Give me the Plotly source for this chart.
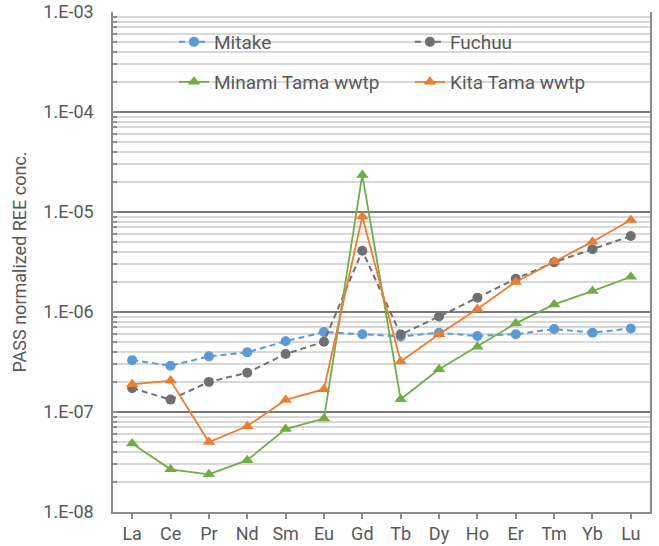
import plotly.graph_objects as go

elements = ["La", "Ce", "Pr", "Nd", "Sm", "Eu", "Gd", "Tb", "Dy", "Ho", "Er", "Tm", "Yb", "Lu"]

mitake = [3.3e-7, 2.9e-7, 3.6e-7, 3.95e-7, 5.1e-7, 6.3e-7, 6.0e-7, 5.7e-7, 6.2e-7, 5.75e-7, 6.0e-7, 6.75e-7, 6.2e-7, 6.85e-7]
fuchuu = [1.73e-7, 1.33e-7, 2.0e-7, 2.47e-7, 3.8e-7, 5.05e-7, 4.1e-6, 5.95e-7, 9.0e-7, 1.39e-6, 2.15e-6, 3.14e-6, 4.25e-6, 5.75e-6]
minami_tama = [4.85e-8, 2.67e-8, 2.38e-8, 3.3e-8, 6.75e-8, 8.6e-8, 2.35e-5, 1.34e-7, 2.67e-7, 4.5e-7, 7.7e-7, 1.19e-6, 1.62e-6, 2.25e-6]
kita_tama = [1.89e-7, 2.06e-7, 5.0e-8, 7.2e-8, 1.32e-7, 1.69e-7, 9.0e-6, 3.2e-7, 6.0e-7, 1.07e-6, 2.0e-6, 3.2e-6, 5.05e-6, 8.3e-6]

major_vals = [1e-8, 1e-7, 1e-6, 1e-5, 1e-4, 1e-3]
major_text = ["1.E-08", "1.E-07", "1.E-06", "1.E-05", "1.E-04", "1.E-03"]
minor_vals = [m * 10.0 ** e for e in range(-8, -3) for m in range(2, 10)]

FONT = "Roboto"
TEXT = "#595959"
AXIS = "#8c8c8c"

series = [
    ("Mitake", mitake, "#5B9BD5", "circle", 10, "6px,4px", 2.0, "legend"),
    ("Fuchuu", fuchuu, "#707070", "circle", 10, "6px,4px", 2.0, "legend2"),
    ("Minami Tama wwtp", minami_tama, "#70AD47", "triangle-up", 11, "solid", 1.8, "legend3"),
    ("Kita Tama wwtp", kita_tama, "#ED7D31", "triangle-up", 11, "solid", 1.8, "legend4"),
]

fig = go.Figure()
for name, vals, color, symbol, size, dash, lw, leg in series:
    fig.add_trace(go.Scatter(
        x=elements, y=vals, name=name, mode="lines+markers",
        line=dict(color=color, width=lw, dash=dash),
        marker=dict(color=color, symbol=symbol, size=size),
        legend=leg, showlegend=True,
    ))

def legend_box(x, y):
    return dict(x=x, y=y, xanchor="left", yanchor="middle", bgcolor="rgba(0,0,0,0)",
                font=dict(family=FONT, size=19, color=TEXT), itemwidth=30)

fig.update_layout(
    width=659, height=546,
    margin=dict(l=113, r=9, t=12, b=34),
    paper_bgcolor="white", plot_bgcolor="white",
    font=dict(family=FONT, color=TEXT),
    showlegend=True,
    legend=legend_box(0.1136, 0.94),
    legend2=legend_box(0.553, 0.94),
    legend3=legend_box(0.1136, 0.86),
    legend4=legend_box(0.553, 0.86),
    # white panel behind the legend entries, above the gridlines
    shapes=[dict(type="rect", xref="paper", yref="paper", x0=0.06, x1=0.874, y0=0.82, y1=0.99,
                 fillcolor="white", line=dict(width=0), layer="between")],
)

fig.update_xaxes(
    type="category", range=[-0.5, 13.5], automargin=False,
    showline=True, linecolor=AXIS, linewidth=1.5, mirror=False,
    ticks="outside", ticklen=5, tickcolor=AXIS, tickwidth=1.5,
    showgrid=False, tickfont=dict(family=FONT, size=18, color=TEXT),
)

fig.update_yaxes(
    type="log", range=[-8, -3], automargin=False,
    tickmode="array", tickvals=major_vals, ticktext=major_text,
    tickfont=dict(family=FONT, size=18, color=TEXT),
    ticks="inside", ticklen=5, tickcolor=AXIS, tickwidth=1.5,
    ticklabelstandoff=14,
    showline=True, linecolor=AXIS, linewidth=1.5, mirror=True,
    showgrid=True, gridcolor="#7a7a7a", gridwidth=1.5,
    minor=dict(tickmode="array", tickvals=minor_vals, showgrid=True, gridcolor="#d8d8d8",
               gridwidth=1.5, ticks="inside", ticklen=4, tickcolor=AXIS),
    zeroline=False,
    title=dict(text="PASS normalized REE conc.", font=dict(family=FONT, size=18, color=TEXT), standoff=12),
)

fig.write_html("out.html")
